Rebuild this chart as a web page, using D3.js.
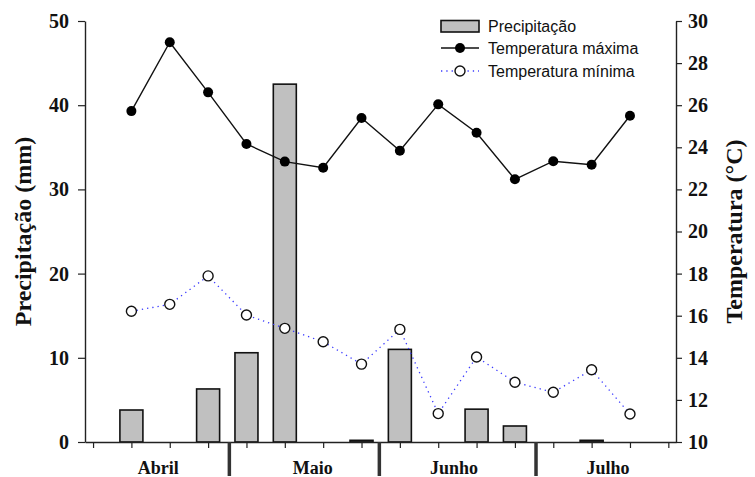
<!DOCTYPE html>
<html>
<head>
<meta charset="utf-8">
<script src="https://cdn.jsdelivr.net/npm/d3@7"></script>
<style>
  html, body { margin: 0; padding: 0; background: #fff; }
  svg { display: block; }
</style>
</head>
<body>
<svg id="chart" width="755" height="477"></svg>
<script>
// ---- data ----
const periods = [1,2,3,4,5,6,7,8,9,10,11,12,13,14];
const precipitation = [3.8, 0, 6.3, 10.6, 42.5, 0, 0.2, 11.0, 0, 3.9, 1.9, 0, 0.2, 0];
const tempMax = [25.72, 28.99, 26.61, 24.16, 23.32, 23.03, 25.39, 23.84, 26.04, 24.69, 22.48, 23.34, 23.17, 25.5];
const tempMin = [16.21, 16.54, 17.89, 16.03, 15.4, 14.76, 13.7, 15.35, 11.35, 14.04, 12.84, 12.36, 13.43, 11.33];
const months = ["Abril", "Maio", "Junho", "Julho"];
const monthCenters = [1.70, 5.73, 9.41, 13.43];
const monthBoundaries = [3.554, 7.465, 11.55];
const xTicks = d3.range(0, 16);
const leftTicks = [0, 10, 20, 30, 40, 50];
const rightTicks = [10, 12, 14, 16, 18, 20, 22, 24, 26, 28, 30];
const legendLabels = ["Precipitação", "Temperatura máxima", "Temperatura mínima"];

// ---- layout ----
const svg = d3.select("#chart");
const L = 85, R = 676, T = 21, B = 442;
const x = d3.scaleLinear().domain([-0.21, 15.2]).range([L, R]);
const yP = d3.scaleLinear().domain([0, 50]).range([B, T]);
const yT = d3.scaleLinear().domain([10, 30]).range([B, T]);
const serif = "'Liberation Serif', 'Times New Roman', serif";
const sans = "'Liberation Sans', Arial, sans-serif";

// bars
const barW = 23;
svg.append("g").selectAll("rect")
  .data(periods.map((p, i) => ({p, v: precipitation[i]})).filter(d => d.v > 0))
  .join("rect")
  .attr("x", d => x(d.p) - barW / 2)
  .attr("y", d => yP(d.v))
  .attr("width", barW)
  .attr("height", d => Math.max(0.001, yP(0) - yP(d.v)))
  .attr("fill", "#c0c0c0")
  .attr("stroke", "#111")
  .attr("stroke-width", 1.6);

// min temperature line
svg.append("path")
  .datum(periods.map((p, i) => [p, tempMin[i]]))
  .attr("fill", "none")
  .attr("stroke", "#3a3aff")
  .attr("stroke-width", 1.3)
  .attr("stroke-dasharray", "1.3,4")
  .attr("d", d3.line().x(d => x(d[0])).y(d => yT(d[1])));

// max temperature line
svg.append("path")
  .datum(periods.map((p, i) => [p, tempMax[i]]))
  .attr("fill", "none")
  .attr("stroke", "#111")
  .attr("stroke-width", 1.4)
  .attr("d", d3.line().x(d => x(d[0])).y(d => yT(d[1])));

svg.append("g").selectAll("circle")
  .data(periods.map((p, i) => [p, tempMax[i]]))
  .join("circle")
  .attr("cx", d => x(d[0])).attr("cy", d => yT(d[1])).attr("r", 5)
  .attr("fill", "#000");

svg.append("g").selectAll("circle")
  .data(periods.map((p, i) => [p, tempMin[i]]))
  .join("circle")
  .attr("cx", d => x(d[0])).attr("cy", d => yT(d[1])).attr("r", 5)
  .attr("fill", "#fff").attr("stroke", "#111").attr("stroke-width", 1.4);

// axes
function styleAxis(g) {
  g.selectAll(".domain").attr("stroke", "#222").attr("stroke-width", 1.4);
  g.selectAll(".tick line").attr("stroke", "#222").attr("stroke-width", 1.2);
  g.selectAll(".tick text").attr("font-family", serif).attr("font-weight", "bold")
    .attr("font-size", 20).attr("fill", "#111");
}

svg.append("g").attr("transform", `translate(0,${B})`)
  .call(d3.axisBottom(x).tickValues(xTicks).tickSize(6).tickSizeOuter(0).tickFormat(""))
  .call(styleAxis);

svg.append("g").attr("transform", `translate(${L},0)`)
  .call(d3.axisLeft(yP).tickValues(leftTicks).tickSize(7).tickSizeOuter(0).tickPadding(9))
  .call(styleAxis);

svg.append("g").attr("transform", `translate(${R},0)`)
  .call(d3.axisRight(yT).tickValues(rightTicks).tickSize(6).tickSizeOuter(0).tickPadding(6))
  .call(styleAxis);

// month separators
svg.append("g").selectAll("line")
  .data(monthBoundaries).join("line")
  .attr("x1", d => x(d)).attr("x2", d => x(d))
  .attr("y1", B).attr("y2", B + 34)
  .attr("stroke", "#333").attr("stroke-width", 3.5);

// month labels
svg.append("g").selectAll("text")
  .data(months).join("text")
  .attr("x", (d, i) => x(monthCenters[i]))
  .attr("y", B + 32)
  .attr("text-anchor", "middle")
  .attr("font-family", serif).attr("font-weight", "bold").attr("font-size", 18)
  .attr("fill", "#111")
  .text(d => d);

// axis titles
svg.append("text")
  .attr("transform", `translate(31,${(T + B) / 2}) rotate(-90)`)
  .attr("text-anchor", "middle")
  .attr("font-family", serif).attr("font-weight", "bold").attr("font-size", 24)
  .attr("fill", "#111")
  .text("Precipitação (mm)");

svg.append("text")
  .attr("transform", `translate(742,${(T + B) / 2}) rotate(-90)`)
  .attr("text-anchor", "middle")
  .attr("font-family", serif).attr("font-weight", "bold").attr("font-size", 24)
  .attr("fill", "#111")
  .text("Temperatura (°C)");

// legend
const lg = svg.append("g").attr("transform", "translate(441,0)");
const rows = [26.5, 48, 71];
lg.append("rect").attr("x", 0).attr("y", rows[0] - 6).attr("width", 38).attr("height", 11.5)
  .attr("fill", "#c0c0c0").attr("stroke", "#111").attr("stroke-width", 1.6);
lg.append("line").attr("x1", 0).attr("x2", 38).attr("y1", rows[1]).attr("y2", rows[1])
  .attr("stroke", "#111").attr("stroke-width", 1.4);
lg.append("circle").attr("cx", 19).attr("cy", rows[1]).attr("r", 5).attr("fill", "#000");
lg.append("line").attr("x1", 0).attr("x2", 38).attr("y1", rows[2]).attr("y2", rows[2])
  .attr("stroke", "#3a3aff").attr("stroke-width", 1.3).attr("stroke-dasharray", "1.3,4");
lg.append("circle").attr("cx", 19).attr("cy", rows[2]).attr("r", 5)
  .attr("fill", "#fff").attr("stroke", "#111").attr("stroke-width", 1.4);
lg.selectAll("text.lbl").data(legendLabels).join("text")
  .attr("class", "lbl")
  .attr("x", 47).attr("y", (d, i) => rows[i] + 5.5)
  .attr("font-family", sans).attr("font-size", 16).attr("fill", "#111")
  .text(d => d);
</script>
</body>
</html>
